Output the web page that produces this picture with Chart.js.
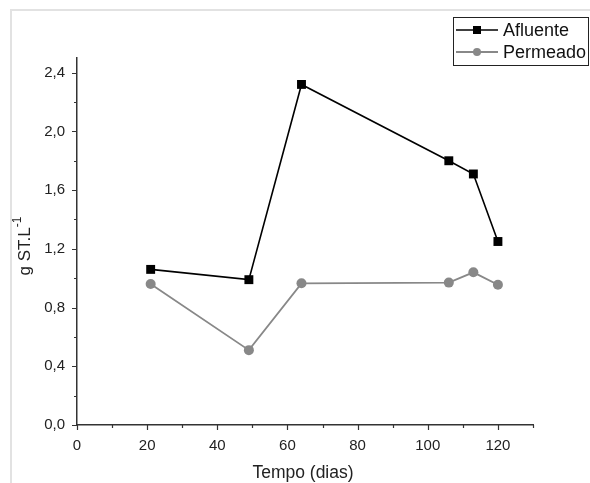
<!DOCTYPE html>
<html>
<head>
<meta charset="utf-8">
<script src="https://cdn.jsdelivr.net/npm/chart.js@4/dist/chart.umd.min.js"></script>
<style>
  html, body { margin: 0; padding: 0; background: #fff; }
  #wrap { position: relative; width: 590px; height: 483px; overflow: hidden; }
  #frame { position: absolute; left: 10px; top: 9px; right: 0; bottom: 0; border-top: 2px solid #e2e2e2; border-left: 2px solid #e2e2e2; }
  canvas { position: absolute; left: 0; top: 0; }
  #xtitle { position: absolute; left: 0; top: 462px; width: 606px; text-align: center; font: 17.5px 'Liberation Sans', Arial, sans-serif; color: #222; }
</style>
</head>
<body>
<div id="wrap">
  <div id="frame"></div>
  <canvas id="chart" width="590" height="483"></canvas>
  <div id="xtitle">Tempo (dias)</div>
</div>
<script>
const days = [21, 49, 64, 106, 113, 120]
const afluente = [1.06, 0.99, 2.32, 1.80, 1.71, 1.25]
const permeado = [0.96, 0.51, 0.965, 0.97, 1.04, 0.955]
const xTicks = [0, 20, 40, 60, 80, 100, 120]
const yTicks = [0, 0.4, 0.8, 1.2, 1.6, 2.0, 2.4]

const FONT = '"Liberation Sans", Arial, sans-serif'
const AXIS = '#333'

const toPoints = (ys) => days.map((d, i) => ({ x: d, y: ys[i] }))
const comma = (v) => v.toFixed(1).replace('.', ',')

// outward ticks (major + minor), legend and y title drawn by hand
const extras = {
  id: 'extras',
  afterDraw(chart) {
    const { ctx, scales: { x, y } } = chart
    ctx.save()
    ctx.strokeStyle = AXIS
    ctx.lineWidth = 1.2
    ctx.beginPath()
    for (let v = 0; v <= 130; v += 10) {
      const px = Math.round(x.getPixelForValue(v)) + 0.5
      const len = v % 20 === 0 ? 5 : 3
      ctx.moveTo(px, y.bottom)
      ctx.lineTo(px, y.bottom + len)
    }
    for (let i = 0; i <= 12; i++) {
      const v = i * 0.2
      const py = Math.round(y.getPixelForValue(v)) + 0.5
      const len = i % 2 === 0 ? 5 : 3
      ctx.moveTo(x.left, py)
      ctx.lineTo(x.left - len, py)
    }
    ctx.stroke()

    // y title with superscript
    ctx.translate(25, 246)
    ctx.rotate(-Math.PI / 2)
    ctx.fillStyle = '#222'
    ctx.textBaseline = 'middle'
    ctx.textAlign = 'left'
    const main = 'g ST.L'
    ctx.font = '12px ' + FONT
    const supW = ctx.measureText('-1').width
    ctx.font = '17px ' + FONT
    const mainW = ctx.measureText(main).width
    const start = -(mainW + supW) / 2
    ctx.fillText(main, start, 0)
    ctx.font = '12px ' + FONT
    ctx.fillText('-1', start + mainW, -7)
    ctx.restore()

    // legend
    ctx.save()
    ctx.strokeStyle = '#222'
    ctx.lineWidth = 1
    ctx.strokeRect(453.5, 17.5, 135, 48)
    chart.data.datasets.forEach((ds, i) => {
      const cy = 30 + i * 22
      ctx.strokeStyle = ds.borderColor
      ctx.lineWidth = ds.borderWidth
      ctx.beginPath()
      ctx.moveTo(456, cy)
      ctx.lineTo(498, cy)
      ctx.stroke()
      ctx.fillStyle = ds.backgroundColor
      if (ds.pointStyle === 'rect') {
        ctx.fillRect(477 - 4, cy - 4, 8, 8)
      } else {
        ctx.beginPath()
        ctx.arc(477, cy, 4, 0, Math.PI * 2)
        ctx.fill()
      }
      ctx.fillStyle = '#111'
      ctx.font = '18px ' + FONT
      ctx.textBaseline = 'middle'
      ctx.fillText(ds.label, 503, cy + 1)
    })
    ctx.restore()
  }
}

new Chart(document.getElementById('chart'), {
  type: 'line',
  data: {
    datasets: [
      {
        label: 'Afluente',
        data: toPoints(afluente),
        borderColor: '#000',
        backgroundColor: '#000',
        borderWidth: 1.6,
        pointStyle: 'rect',
        pointRadius: 6.3,
        pointBorderWidth: 0,
      },
      {
        label: 'Permeado',
        data: toPoints(permeado),
        borderColor: '#888',
        backgroundColor: '#888',
        borderWidth: 1.8,
        pointStyle: 'circle',
        pointRadius: 5,
        pointBorderWidth: 0,
      },
    ],
  },
  options: {
    responsive: false,
    animation: false,
    layout: { padding: { left: 0, top: 58, right: 57, bottom: 0 } },
    plugins: { legend: { display: false }, tooltip: { enabled: false } },
    scales: {
      x: {
        type: 'linear',
        min: 0,
        max: 130,
        afterFit: (s) => { s.height = 58 },
        afterBuildTicks: (s) => { s.ticks = xTicks.map((v) => ({ value: v })) },
        grid: { display: false },
        border: { display: true, color: AXIS, width: 1.5 },
        ticks: { color: '#222', font: { family: FONT, size: 15 }, padding: 4, autoSkip: false, maxRotation: 0 },
      },
      y: {
        type: 'linear',
        min: 0,
        max: 2.5,
        afterFit: (s) => { s.width = 77 },
        afterBuildTicks: (s) => { s.ticks = yTicks.map((v) => ({ value: v })) },
        grid: { display: false },
        border: { display: true, color: AXIS, width: 1.5 },
        ticks: { color: '#222', font: { family: FONT, size: 15 }, padding: 4, autoSkip: false, callback: (v) => comma(v) },
      },
    },
  },
  plugins: [extras],
})
</script>
</body>
</html>
